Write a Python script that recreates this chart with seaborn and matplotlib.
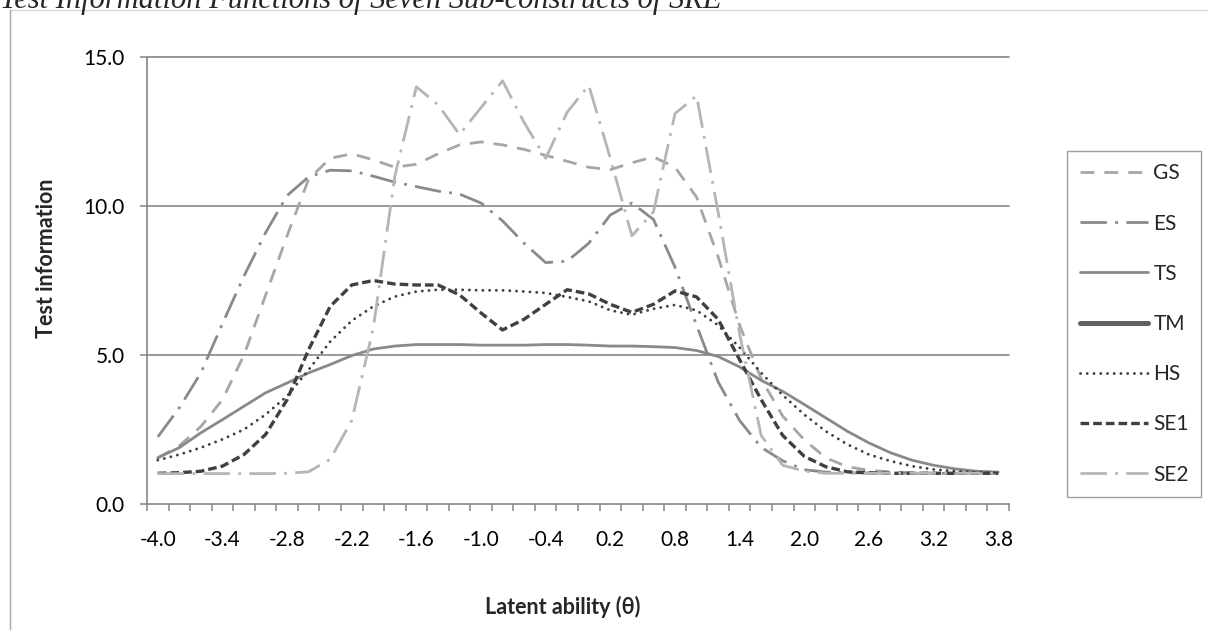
import matplotlib
matplotlib.use("Agg")
import matplotlib.pyplot as plt
from matplotlib.lines import Line2D
import seaborn as sns

# latent ability categories
theta = [-4.0, -3.8, -3.6, -3.4, -3.2, -3.0, -2.8, -2.6, -2.4, -2.2,
         -2.0, -1.8, -1.6, -1.4, -1.2, -1.0, -0.8, -0.6, -0.4, -0.2,
         0.0, 0.2, 0.4, 0.6, 0.8, 1.0, 1.2, 1.4, 1.6, 1.8,
         2.0, 2.2, 2.4, 2.6, 2.8, 3.0, 3.2, 3.4, 3.6, 3.8]

gs = [1.55, 1.95, 2.6, 3.5, 5.0, 7.0, 9.0, 10.9, 11.6, 11.75,
      11.55, 11.3, 11.4, 11.75, 12.05, 12.15, 12.05, 11.9, 11.7, 11.5,
      11.3, 11.22, 11.45, 11.65, 11.3, 10.3, 8.3, 6.0, 4.2, 2.95,
      2.15, 1.55, 1.25, 1.13, 1.08, 1.05, 1.04, 1.03, 1.03, 1.03]

es = [2.25, 3.23, 4.4, 6.05, 7.65, 9.1, 10.35, 10.98, 11.2, 11.18,
      11.0, 10.8, 10.65, 10.5, 10.4, 10.1, 9.5, 8.75, 8.1, 8.15,
      8.75, 9.7, 10.1, 9.55, 7.95, 6.0, 4.1, 2.8, 1.9, 1.45,
      1.15, 1.07, 1.05, 1.04, 1.03, 1.03, 1.03, 1.03, 1.03, 1.03]

ts = [1.55, 1.89, 2.39, 2.83, 3.28, 3.73, 4.06, 4.4, 4.68, 4.98,
      5.2, 5.3, 5.35, 5.35, 5.35, 5.33, 5.33, 5.33, 5.35, 5.35,
      5.33, 5.3, 5.3, 5.28, 5.25, 5.15, 4.95, 4.6, 4.15, 3.78,
      3.34, 2.89, 2.44, 2.05, 1.72, 1.47, 1.3, 1.18, 1.1, 1.07]

hs = [1.47, 1.66, 1.89, 2.17, 2.5, 3.0, 3.62, 4.5, 5.45, 6.15,
      6.63, 6.96, 7.13, 7.19, 7.19, 7.17, 7.17, 7.13, 7.08, 6.95,
      6.8, 6.5, 6.35, 6.55, 6.68, 6.5, 6.0, 5.25, 4.4, 3.65,
      3.0, 2.44, 2.0, 1.66, 1.44, 1.27, 1.16, 1.1, 1.07, 1.05]

se1 = [1.03, 1.05, 1.1, 1.27, 1.66, 2.33, 3.5, 5.18, 6.63, 7.35,
       7.5, 7.38, 7.35, 7.35, 7.02, 6.41, 5.84, 6.2, 6.7, 7.19,
       7.05, 6.7, 6.43, 6.7, 7.15, 6.95, 6.2, 4.84, 3.5, 2.3,
       1.6, 1.25, 1.08, 1.05, 1.03, 1.03, 1.03, 1.03, 1.03, 1.03]

se2 = [1.02, 1.02, 1.02, 1.02, 1.02, 1.02, 1.03, 1.08, 1.5, 2.8,
       5.9, 11.0, 14.0, 13.4, 12.4, 13.3, 14.2, 12.8, 11.6, 13.15,
       14.05, 11.6, 9.0, 9.8, 13.1, 13.7, 9.8, 5.7, 2.3, 1.3,
       1.1, 1.03, 1.03, 1.03, 1.03, 1.03, 1.03, 1.03, 1.03, 1.03]

# TM aparece en la leyenda pero no tiene curva visible en el original
series = {"GS": gs, "ES": es, "TS": ts, "TM": None, "HS": hs, "SE1": se1, "SE2": se2}

# color, grosor (pt), patron de guiones (en grosores), remate
estilos = {
    "GS": ("#A6A6A6", 2.0, (5.0, 3.6), "butt"),
    "ES": ("#8A8A8A", 2.0, (9.5, 3.0, 1, 3.0), "butt"),
    "TS": ("#898989", 2.0, None, "butt"),
    "TM": ("#616161", 3.6, None, "butt"),
    "HS": ("#404040", 2.1, (0.01, 2.3), "round"),
    "SE1": ("#404040", 2.4, (2.6, 1.2), "butt"),
    "SE2": ("#B5B5B5", 2.0, (9.5, 3.0, 1, 3.0), "butt"),
}

sns.set_theme(style="white")
plt.rcParams["font.family"] = ["Lato", "DejaVu Sans"]

W, H = 1208, 630
fig = plt.figure(figsize=(W / 100, H / 100), dpi=100)
ax = fig.add_axes([147 / W, 1 - 504 / H, (1009 - 147) / W, (504 - 57) / H])

gris = "#868686"
for v in [5, 10, 15]:
    ax.axhline(v, color=gris, lw=1.2, zorder=0.5, clip_on=False)

handles = []
for nombre, valores in series.items():
    color, lw, dashes, cap = estilos[nombre]
    if valores is not None:
        sns.lineplot(x=theta, y=valores, ax=ax, color=color, linewidth=lw, zorder=2)
        linea = ax.lines[-1]
        if dashes is not None:
            linea.set_dashes(dashes)
            linea.set_dash_capstyle(cap)
    h = Line2D([0], [0], color=color, lw=lw)
    if dashes is not None:
        h.set_dashes(dashes)
        h.set_dash_capstyle(cap)
    handles.append(h)

ax.set_xlim(-4.1, 3.9)
ax.set_ylim(0, 15)
ax.set_xlabel("")
ax.set_ylabel("")

ax.set_yticks([0, 5, 10, 15])
ax.set_yticklabels([f"{v:.1f}" for v in [0, 5, 10, 15]])
etiquetas_x = theta[::3]
ax.set_xticks(etiquetas_x)
ax.set_xticklabels([f"{v:.1f}" for v in etiquetas_x])
ax.set_xticks([-4.1 + 0.2 * k for k in range(41)], minor=True)

ax.tick_params(axis="x", which="major", length=0, pad=19, labelsize=15, colors="black")
ax.tick_params(axis="x", which="minor", length=5, width=1.1, color=gris, direction="out")
ax.tick_params(axis="y", which="major", length=5, width=1.1, color=gris, direction="out",
               pad=11, labelsize=15, labelcolor="black")
ax.tick_params(bottom=True, left=True, which="both")

for lado in ["top", "right"]:
    ax.spines[lado].set_visible(False)
for lado in ["left", "bottom"]:
    ax.spines[lado].set_color(gris)
    ax.spines[lado].set_linewidth(1.2)

fig.text(47 / W, 1 - 258 / H, "Test information", rotation=90, ha="center", va="center",
         fontsize=15.5, fontweight="bold")
fig.text(563 / W, 1 - 607 / H, "Latent ability (θ)", ha="center", va="center",
         fontsize=15.5, fontweight="bold")

fig.text(0.0, 1 - 8 / H, "Test Information Functions of Seven Sub-constructs of SRE",
         family=["Liberation Serif"], style="italic", fontsize=22, ha="left", va="baseline")

# borde del area del grafico
fig.add_artist(Line2D([10 / W, 1], [1 - 10 / H, 1 - 10 / H], transform=fig.transFigure,
                      color="#D9D9D9", lw=1))
fig.add_artist(Line2D([10 / W, 10 / W], [0, 1 - 10 / H], transform=fig.transFigure,
                      color="#A6A6A6", lw=1))

leg = ax.legend(handles, list(series.keys()), loc="center left",
                bbox_to_anchor=(1067 / W, 1 - 324 / H), bbox_transform=fig.transFigure,
                borderaxespad=0, frameon=True, fancybox=False, edgecolor=gris, fontsize=15,
                handlelength=3.3, labelspacing=1.45, handletextpad=0.25, borderpad=0.6)
leg.get_frame().set_linewidth(1.0)

fig.savefig("out.png", dpi=100)
